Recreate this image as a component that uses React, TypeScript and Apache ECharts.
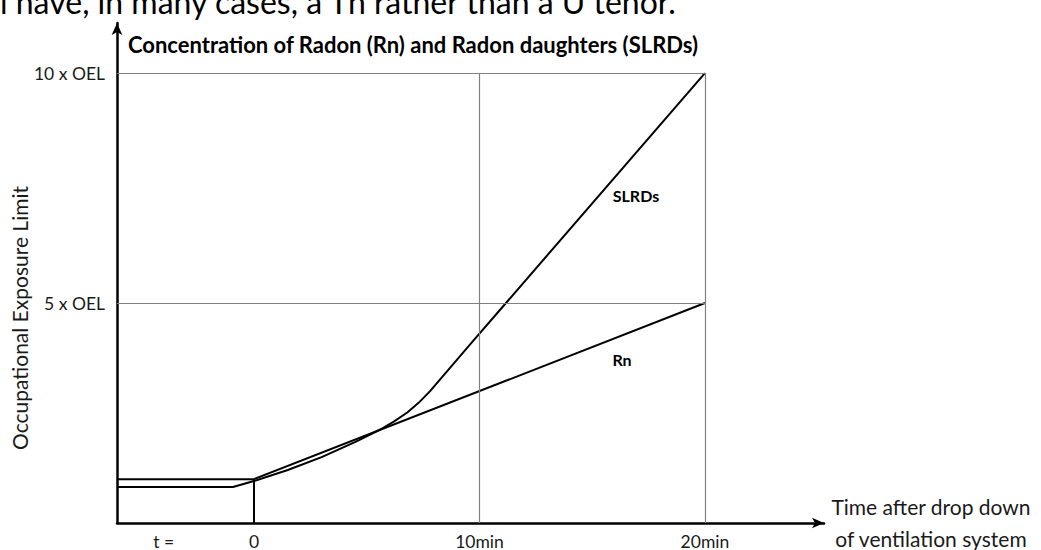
import React, { useEffect, useRef } from "react";
import * as echarts from "echarts";

// Tick positions / labels
const timeTicks = [-4, 0, 10, 20];
const timeTickLabels = ["t =", "0", "10min", "20min"];
const oelTicks = [5, 10];
const oelTickLabels = ["5 x OEL", "10 x OEL"];

// Axis ranges (minutes, multiples of OEL)
const T_MIN = -6.075;
const T_MAX = 25.28;
const Y_MIN = 0.217;
const Y_MAX = 11.09;

// Radon (Rn)
const rnTimes = [-6.075, 0, 20];
const rnValues = [1.17, 1.17, 5];

// Radon daughters (SLRDs)
const slrdTimes = [-6.075, -0.93, 0, 1.5, 3, 4.5, 5.6, 6.2, 6.8, 7.3, 7.8, 9.71, 20];
const slrdValues = [1.0, 1.0, 1.13, 1.37, 1.65, 1.98, 2.25, 2.42, 2.62, 2.83, 3.08, 4.17, 10];

// Reference grid (box up to 20 min / 10 x OEL)
const gridTimes = [10, 20];
const gridLevels = [5, 10];
const gridEndTime = 20;
const gridTopLevel = 10;

const FONT = "Lato, 'Open Sans', sans-serif";

export default function App() {
  const ref = useRef<HTMLDivElement>(null);

  useEffect(() => {
    document.body.style.margin = "0";
    if (!ref.current) return;
    const chart = echarts.init(ref.current, null, { renderer: "svg" });

    const rnData = rnTimes.map((t, i) => [t, rnValues[i]]);
    const slrdData = slrdTimes.map((t, i) => [t, slrdValues[i]]);
    const dropData = [
      [0, Y_MIN],
      [0, rnValues[1]],
    ];

    const markLines: any[] = [];
    gridLevels.forEach((lv) =>
      markLines.push([{ coord: [T_MIN, lv] }, { coord: [gridEndTime, lv] }])
    );
    gridTimes.forEach((t) =>
      markLines.push([{ coord: [t, Y_MIN] }, { coord: [t, gridTopLevel] }])
    );

    const option: any = {
      animation: false,
      backgroundColor: "#ffffff",
      textStyle: { fontFamily: FONT },
      grid: { left: 117, right: 217, top: 23, bottom: 27, containLabel: false },
      xAxis: {
        type: "value",
        min: T_MIN,
        max: T_MAX,
        axisLine: {
          onZero: false,
          lineStyle: { color: "#000", width: 2.5 },
          symbol: ["none", "arrow"],
          symbolSize: [8, 12],
        },
        axisTick: { show: false },
        splitLine: { show: false },
        axisLabel: {
          customValues: timeTicks,
          margin: 9,
          color: "#1a1a1a",
          fontSize: 17.5,
          fontFamily: FONT,
          formatter: (v: number) => {
            const i = timeTicks.indexOf(v);
            return i >= 0 ? timeTickLabels[i] : "";
          },
        },
      },
      yAxis: {
        type: "value",
        min: Y_MIN,
        max: Y_MAX,
        axisLine: {
          onZero: false,
          lineStyle: { color: "#000", width: 2.5 },
          symbol: ["none", "arrow"],
          symbolSize: [8, 12],
        },
        axisTick: { show: false },
        splitLine: { show: false },
        axisLabel: {
          customValues: oelTicks,
          margin: 12,
          color: "#1a1a1a",
          fontSize: 17.5,
          fontFamily: FONT,
          formatter: (v: number) => {
            const i = oelTicks.indexOf(v);
            return i >= 0 ? oelTickLabels[i] : "";
          },
        },
      },
      series: [
        {
          name: "grid",
          type: "line",
          data: [],
          silent: true,
          markLine: {
            silent: true,
            symbol: ["none", "none"],
            label: { show: false },
            lineStyle: { color: "#808080", width: 1.2, type: "solid" },
            data: markLines,
          },
        },
        {
          name: "Rn",
          type: "line",
          data: rnData,
          showSymbol: false,
          symbol: "none",
          silent: true,
          lineStyle: { color: "#000", width: 2 },
          z: 3,
        },
        {
          name: "SLRDs",
          type: "line",
          data: slrdData,
          showSymbol: false,
          symbol: "none",
          silent: true,
          lineStyle: { color: "#000", width: 2 },
          z: 3,
        },
        {
          name: "t0",
          type: "line",
          data: dropData,
          showSymbol: false,
          symbol: "none",
          silent: true,
          lineStyle: { color: "#000", width: 2 },
          z: 3,
        },
      ],
      graphic: [
        {
          type: "text",
          x: 0,
          y: 1,
          style: {
            text: "l have, in many cases, a Th rather than a U tenor.",
            fill: "#000",
            font: `32px ${FONT}`,
            textAlign: "left",
            textVerticalAlign: "middle",
          },
        },
        {
          type: "text",
          x: 128,
          y: 44,
          style: {
            text: "Concentration of Radon (Rn) and Radon daughters (SLRDs)",
            fill: "#000",
            font: `bold 22px ${FONT}`,
            textAlign: "left",
            textVerticalAlign: "middle",
          },
        },
        {
          type: "text",
          x: 19,
          y: 318,
          rotation: Math.PI / 2,
          style: {
            text: "Occupational Exposure Limit",
            fill: "#1a1a1a",
            font: `21px ${FONT}`,
            textAlign: "center",
            textVerticalAlign: "middle",
          },
        },
        {
          type: "text",
          x: 931,
          y: 522,
          style: {
            text: "Time after drop down\nof ventilation system",
            fill: "#1a1a1a",
            font: `21px ${FONT}`,
            lineHeight: 32,
            textAlign: "center",
            textVerticalAlign: "middle",
          },
        },
        {
          type: "text",
          x: 636,
          y: 195,
          style: {
            text: "SLRDs",
            fill: "#000",
            font: `bold 16px ${FONT}`,
            textAlign: "center",
            textVerticalAlign: "middle",
          },
        },
        {
          type: "text",
          x: 622,
          y: 359,
          style: {
            text: "Rn",
            fill: "#000",
            font: `bold 16px ${FONT}`,
            textAlign: "center",
            textVerticalAlign: "middle",
          },
        },
      ],
    };

    chart.setOption(option);
    return () => chart.dispose();
  }, []);

  return <div ref={ref} style={{ width: 1041, height: 550 }} />;
}
